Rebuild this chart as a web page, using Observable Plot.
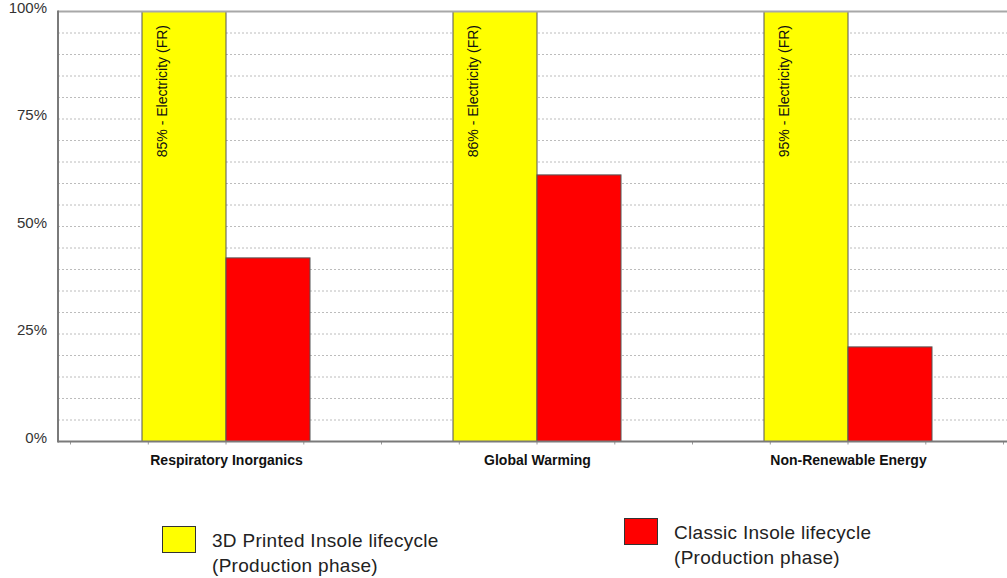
<!DOCTYPE html>
<html><head><meta charset="utf-8">
<script src="https://cdn.jsdelivr.net/npm/d3@7"></script>
<script src="https://cdn.jsdelivr.net/npm/@observablehq/plot@0.6"></script>
<style>
body{margin:0;background:#fff;font-family:"Liberation Sans",Arial,sans-serif;}
#wrap{position:relative;width:1007px;height:578px;overflow:hidden;}
.leg{position:absolute;font-size:19px;letter-spacing:0.3px;color:#222;line-height:25px;white-space:nowrap}
.sw{position:absolute;width:34px;height:27px;border:1px solid #333;box-sizing:border-box}
</style></head><body><div id="wrap"></div>
<script>
const categories = ["Respiratory Inorganics", "Global Warming", "Non-Renewable Energy"];
const seriesNames = ["3D Printed Insole lifecycle (Production phase)", "Classic Insole lifecycle (Production phase)"];
const seriesColors = ["#ffff00", "#ff0000"];
const printedValues = [100, 100, 100];
const classicValues = [42.7, 62, 22];
const electricityLabels = ["85% - Electricity (FR)", "86% - Electricity (FR)", "95% - Electricity (FR)"];
const yTicks = [0, 25, 50, 75, 100];
const gridStep = 5;

const W = 1007, H = 480, ML = 58, MR = 0, MT = 11.5, MB = 38.5;

const rows = categories.flatMap((c, i) => [
  {category: c, series: seriesNames[0], value: printedValues[i]},
  {category: c, series: seriesNames[1], value: classicValues[i]}
]);
const labelRows = categories.map((c, i) => ({category: c, series: seriesNames[0], value: printedValues[i], text: electricityLabels[i]}));
const gridValues = d3.range(gridStep, 100, gridStep);

// Full-frame layers (grid, axis lines, y labels) drawn with the plot's scales
function backdrop(index, scales) {
  const y = scales.y;
  const g = d3.create("svg:g");
  g.selectAll("line").data(gridValues).join("line")
    .attr("x1", ML).attr("x2", W - MR).attr("y1", d => y(d)).attr("y2", d => y(d))
    .attr("stroke", "#bcbcbc").attr("stroke-dasharray", "2,2");
  return g.node();
}
function axesLayer(index, scales) {
  const y = scales.y;
  const fx = scales.fx;
  const g = d3.create("svg:g");
  // minor ticks below the category axis (quarter steps of the category band)
  if (fx && fx.step && fx.bandwidth) {
    const s = fx.step();
    const pos = new Set();
    for (const c of categories) {
      const ctr = fx(c) + fx.bandwidth() / 2;
      for (let k = -2; k <= 2; k++) pos.add(Math.round((ctr + k * s / 4) * 10) / 10);
    }
    g.selectAll("line.mt").data([...pos]).join("line")
      .attr("x1", d => d).attr("x2", d => d).attr("y1", y(0)).attr("y2", y(0) + 3)
      .attr("stroke", "#9a9a9a").attr("stroke-width", 1);
  }
  g.append("line").attr("x1", ML).attr("x2", W - MR).attr("y1", y(100)).attr("y2", y(100))
    .attr("stroke", "#a8a8a8").attr("stroke-width", 2);
  g.append("line").attr("x1", ML).attr("x2", W - MR).attr("y1", y(0)).attr("y2", y(0))
    .attr("stroke", "#7a7a7a").attr("stroke-width", 2);
  g.append("line").attr("x1", ML).attr("x2", ML).attr("y1", y(100) - 1).attr("y2", y(0) + 1)
    .attr("stroke", "#7a7a7a").attr("stroke-width", 2);
  g.selectAll("text").data(yTicks).join("text")
    .attr("x", ML - 11).attr("y", d => y(d)).attr("dy", (0.32 * 15 - 3.5) + "px")
    .attr("text-anchor", "end").attr("font-size", 15).attr("fill", "#333")
    .text(d => d + "%");
  return g.node();
}

const chart = Plot.plot({
  width: W, height: H,
  marginLeft: ML, marginRight: MR, marginTop: MT, marginBottom: MB,
  style: {fontFamily: "'Liberation Sans', Arial, sans-serif", background: "#fff", overflow: "visible"},
  fx: {domain: categories, paddingInner: 0.46, paddingOuter: 0.2557, align: 0.528, label: null},
  x: {domain: seriesNames, padding: 0, axis: null},
  y: {domain: [0, 100], axis: null},
  color: {domain: seriesNames, range: seriesColors},
  marks: [
    Plot.frame({facet: "super", stroke: "none", fill: "none", render: backdrop}),
    Plot.barY(rows, {fx: "category", x: "series", y: "value", fill: "series", stroke: "#555", strokeWidth: 1}),
    Plot.text(labelRows, {fx: "category", x: "series", y: "value", text: "text", rotate: -90, textAnchor: "end", dx: -22, dy: 13, fontSize: 14, fill: "#111"}),
    Plot.frame({facet: "super", stroke: "none", fill: "none", render: axesLayer}),
    Plot.axisFx({anchor: "bottom", tickSize: 0, tickPadding: 13, fontWeight: "bold", fontSize: 14, label: null, fill: "#111"})
  ]
});
const wrap = document.getElementById("wrap");
wrap.appendChild(chart);

const legendItems = [
  {name: seriesNames[0], color: seriesColors[0], sx: 162, sy: 526, tx: 212, ty: 528},
  {name: seriesNames[1], color: seriesColors[1], sx: 624, sy: 518, tx: 674, ty: 520}
];
for (const it of legendItems) {
  const sw = document.createElement("div");
  sw.className = "sw";
  sw.style.left = it.sx + "px"; sw.style.top = it.sy + "px"; sw.style.background = it.color;
  wrap.appendChild(sw);
  const t = document.createElement("div");
  t.className = "leg";
  t.style.left = it.tx + "px"; t.style.top = it.ty + "px";
  const parts = it.name.split(" (");
  t.innerHTML = parts[0] + "<br>(" + parts[1];
  wrap.appendChild(t);
}
</script></body></html>
